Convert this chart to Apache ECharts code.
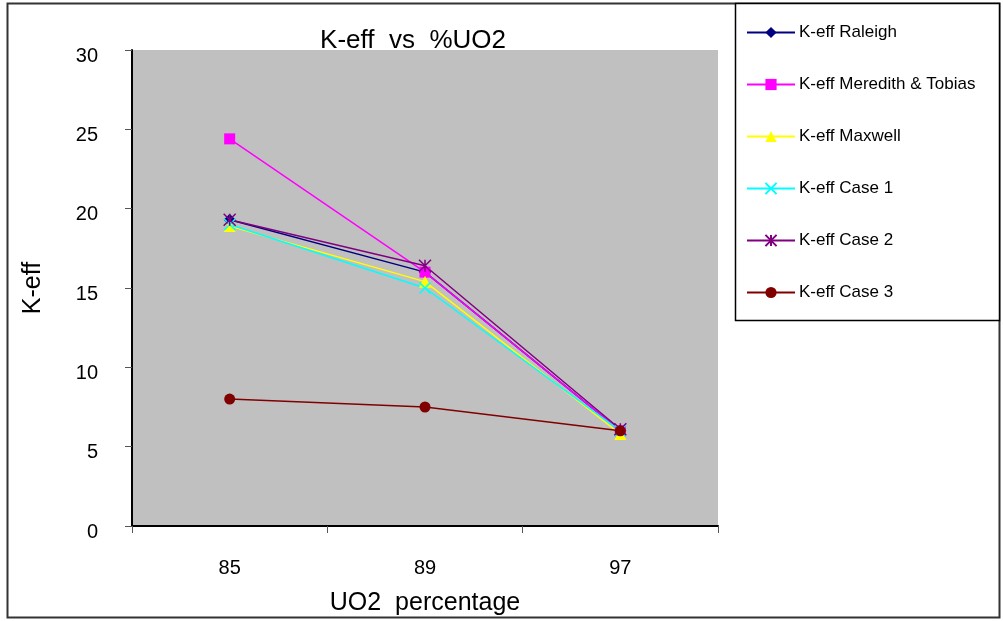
<!DOCTYPE html>
<html>
<head>
<meta charset="utf-8">
<title>K-eff vs %UO2</title>
<script src="https://cdn.jsdelivr.net/npm/echarts@6/dist/echarts.min.js"></script>
<style>
  html, body { margin: 0; padding: 0; background: #fff; }
  #chart { width: 1003px; height: 621px; }
</style>
</head>
<body>
<div id="chart"></div>
<script>
// ---- data ----
const categories = ['85', '89', '97'];
const seriesNames = ['K-eff Raleigh', 'K-eff Meredith & Tobias', 'K-eff Maxwell', 'K-eff Case 1', 'K-eff Case 2', 'K-eff Case 3'];
const raleigh  = [19.3, 16.0, 6.0];
const meredith = [24.4, 16.0, 6.0];
const maxwell  = [18.9, 15.4, 5.8];
const case1    = [19.0, 15.0, 6.0];
const case2    = [19.3, 16.4, 6.1];
const case3    = [8.0, 7.5, 6.0];
const yTicks   = [0, 5, 10, 15, 20, 25, 30];

const font = 'Liberation Sans, Arial, sans-serif';

// symbols
const crossPath = 'path://M0,0L10,10M10,0L0,10';
const starPath = 'path://M0,0L10,10M10,0L0,10M5,0L5,10';

function lineSeries(name, data, color, symbol, size, stroked) {
    return {
        name: name,
        type: 'line',
        data: data,
        symbol: symbol,
        symbolSize: size,
        lineStyle: { color: color, width: 1.5 },
        itemStyle: stroked
            ? { color: 'rgba(0,0,0,0)', borderColor: color, borderWidth: 1.5 }
            : { color: color, borderColor: color, borderWidth: 0 },
        emphasis: { disabled: true },
        z: 3
    };
}

const chart = echarts.init(document.getElementById('chart'), null, { renderer: 'canvas' });
chart.setOption({
    animation: false,
    backgroundColor: '#fff',
    title: {
        text: 'K-eff  vs  %UO2',
        left: 408, top: 23, textAlign: 'center',
        textStyle: { fontFamily: font, fontSize: 26, fontWeight: 'normal', color: '#000' }
    },
    legend: {
        orient: 'vertical',
        left: 746, top: 24,
        padding: 0,
        itemWidth: 48, itemHeight: 14,
        itemGap: 35,
        data: seriesNames,
        textStyle: { fontFamily: font, fontSize: 17, color: '#000', padding: [0, 0, 0, -1] }
    },
    grid: { left: 132, right: 285, top: 50, bottom: 91, show: true, backgroundColor: '#c0c0c0', borderWidth: 0 },
    xAxis: {
        type: 'category',
        data: categories,
        boundaryGap: true,
        name: 'UO2  percentage',
        nameLocation: 'middle',
        nameGap: 65,
        nameTextStyle: { fontFamily: font, fontSize: 25, color: '#000' },
        axisLine: { lineStyle: { color: '#000', width: 2 } },
        axisTick: { show: true, alignWithLabel: false, length: 7, lineStyle: { color: '#555', width: 1 } },
        axisLabel: { fontFamily: font, fontSize: 20, color: '#000', margin: 32 },
        splitLine: { show: false }
    },
    yAxis: {
        type: 'value',
        min: 0, max: 30, interval: 5,
        name: 'K-eff',
        nameLocation: 'middle',
        nameGap: 86,
        nameTextStyle: { fontFamily: font, fontSize: 25, color: '#000' },
        axisLine: { show: true, lineStyle: { color: '#000', width: 2 } },
        axisTick: { show: true, inside: false, length: 7, lineStyle: { color: '#555', width: 1 } },
        axisLabel: {
            fontFamily: font, fontSize: 20, color: '#000', margin: 34,
            verticalAlign: 'top', lineHeight: 12,
            formatter: v => yTicks.includes(v) ? String(v) : ''
        },
        splitLine: { show: false }
    },
    graphic: [
        { type: 'rect', shape: { x: 7.5, y: 3.5, width: 992, height: 614 }, style: { fill: 'none', stroke: '#333', lineWidth: 2 }, z: 0, silent: true },
        { type: 'rect', shape: { x: 735.5, y: 3.5, width: 264, height: 317 }, style: { fill: '#fff', stroke: '#000', lineWidth: 1.5 }, z: 0, silent: true }
    ],
    series: [
        lineSeries(seriesNames[0], raleigh, '#000080', 'diamond', 12, false),
        lineSeries(seriesNames[1], meredith, '#ff00ff', 'rect', 11, false),
        lineSeries(seriesNames[2], maxwell, '#ffff00', 'triangle', 12, false),
        lineSeries(seriesNames[3], case1, '#00ffff', crossPath, 11, true),
        lineSeries(seriesNames[4], case2, '#800080', starPath, 12, true),
        lineSeries(seriesNames[5], case3, '#800000', 'circle', 11, false)
    ]
});

window.addEventListener('resize', () => chart.resize());
</script>
</body>
</html>
